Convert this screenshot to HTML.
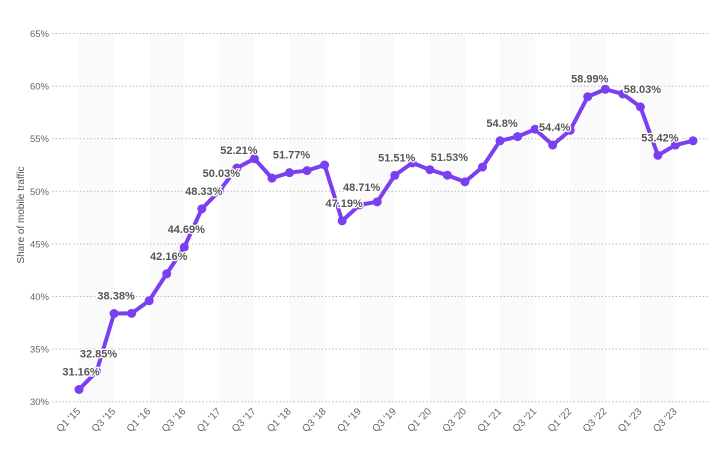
<!DOCTYPE html>
<html><head><meta charset="utf-8"><style>
html,body{margin:0;padding:0;background:#fff;}
svg{display:block;font-family:"Liberation Sans",sans-serif;}
</style></head><body>
<svg id="chart" width="709" height="465" viewBox="0 0 709 465">
<g id="bands"></g><g id="grid"></g><g id="yticks"></g><g id="xticks"></g>
<text transform="translate(24,215) rotate(-90)" text-anchor="middle" font-size="10" fill="#555">Share of mobile traffic</text>
<g id="series"></g><g id="labels"></g>
</svg>
<script>
const categories=["Q1 '15","Q2 '15","Q3 '15","Q4 '15","Q1 '16","Q2 '16","Q3 '16","Q4 '16","Q1 '17","Q2 '17","Q3 '17","Q4 '17","Q1 '18","Q2 '18","Q3 '18","Q4 '18","Q1 '19","Q2 '19","Q3 '19","Q4 '19","Q1 '20","Q2 '20","Q3 '20","Q4 '20","Q1 '21","Q2 '21","Q3 '21","Q4 '21","Q1 '22","Q2 '22","Q3 '22","Q4 '22","Q1 '23","Q2 '23","Q3 '23","Q4 '23"];
const values=[31.16,32.85,38.38,38.4,39.6,42.16,44.69,48.33,50.03,52.21,53.1,51.25,51.77,51.97,52.5,47.19,48.71,49.0,51.51,52.7,52.05,51.53,50.9,52.3,54.8,55.2,55.9,54.4,55.8,58.99,59.7,59.25,58.03,53.42,54.4,54.8];
const labeledIdx=[0,1,2,5,6,7,8,9,12,15,16,18,21,24,27,29,32,33];
const yTicks=[30,35,40,45,50,55,60,65];
const NS="http://www.w3.org/2000/svg";
const x0=79,x1=693,yMin=30,yMax=65,yB=401.7,yT=33.5;
function xs(i){return x0+(x1-x0)*i/(categories.length-1);}
function ys(v){return yB-(v-yMin)/(yMax-yMin)*(yB-yT);}
function mk(tag,attrs,parent){const e=document.createElementNS(NS,tag);for(const k in attrs)e.setAttribute(k,attrs[k]);parent.appendChild(e);return e;}
const bands=document.getElementById('bands');
for(let i=0;i<categories.length;i+=4){
  const b=mk('rect',{x:xs(i),y:yT,width:xs(i+2)-xs(i),height:yB-yT,fill:'#fafafa'},bands);
  
  
}
const grid=document.getElementById('grid'),yt=document.getElementById('yticks');
yTicks.forEach(v=>{
  const l=mk('line',{x1:52,x2:709,y1:ys(v),y2:ys(v),stroke:'#bbb','stroke-width':1,'stroke-dasharray':'1.5,2'},grid);
  
  
  const t=mk('text',{x:49,y:ys(v)+3.5,'text-anchor':'end','font-size':9.5,fill:'#666'},yt);
  t.textContent=v+'%';
  
  
});
const xt=document.getElementById('xticks');
categories.forEach((c,i)=>{
  if(i%2)return;
  const t=mk('text',{transform:`translate(${xs(i)+2},${412}) rotate(-45)`,'text-anchor':'end','font-size':10,fill:'#666'},xt);
  t.textContent=c;
  
  
});
const s=document.getElementById('series');
const pl=mk('polyline',{points:values.map((v,i)=>xs(i)+','+ys(v)).join(' '),fill:'none',stroke:'#7a3ff0','stroke-width':4,'stroke-linejoin':'round'},s);


values.forEach((v,i)=>{
  const c=mk('circle',{cx:xs(i),cy:ys(v),r:4.5,fill:'#7a3ff0'},s);
  
  
});
const lg=document.getElementById('labels');
labeledIdx.forEach(i=>{
  const t=mk('text',{x:xs(i)+2,y:ys(values[i])-14,'text-anchor':'middle','font-size':11,'font-weight':'bold',fill:'#555',stroke:'#fff','stroke-width':2.5,'paint-order':'stroke'},lg);
  t.textContent=values[i]+'%';
  
  
});
</script>
</body></html>
